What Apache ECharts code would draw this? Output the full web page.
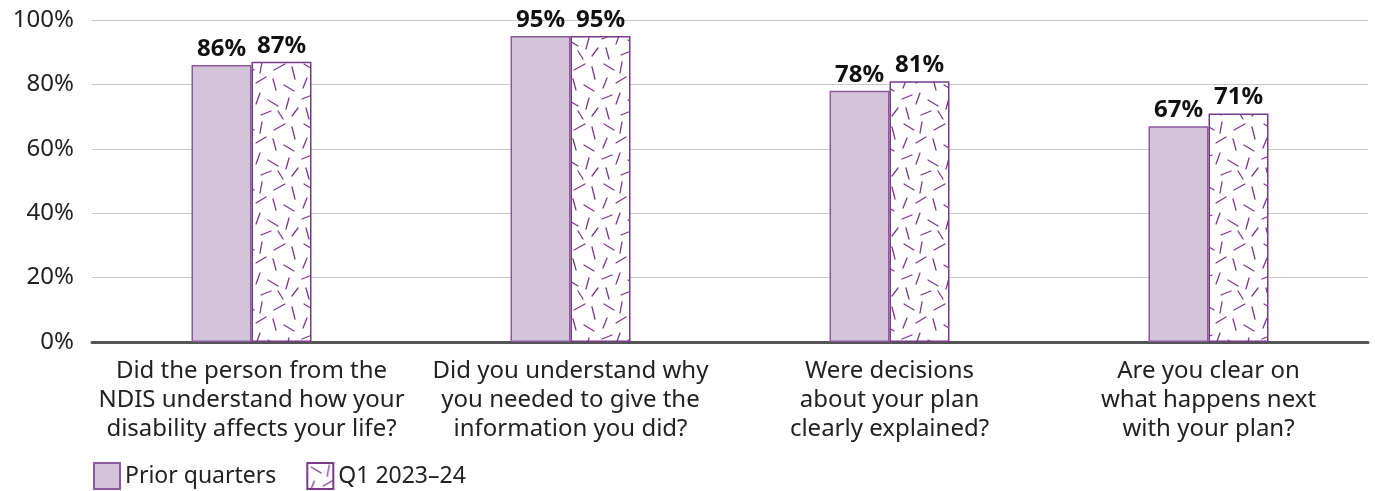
<!DOCTYPE html>
<html>
<head>
<meta charset="utf-8">
<script src="https://cdn.jsdelivr.net/npm/echarts@6/dist/echarts.min.js"></script>
<style>
  html, body { margin: 0; padding: 0; background: #fff; }
  #main { width: 1375px; height: 491px; }
</style>
</head>
<body>
<div id="main"></div>
<script>
var categories = [
  'Did the person from the\nNDIS understand how your\ndisability affects your life?',
  'Did you understand why\nyou needed to give the\ninformation you did?',
  'Were decisions\nabout your plan\nclearly explained?',
  'Are you clear on\nwhat happens next\nwith your plan?'
]
var priorQuarters = [86, 95, 78, 67]
var q1Values = [87, 95, 81, 71]
var yTicks = [0, 20, 40, 60, 80, 100]

var fontFamily = '"Noto Sans", sans-serif'

// hatch texture for the Q1 bars: short dashes at mixed angles
function makePattern () {
  var c = document.createElement('canvas')
  c.width = 60
  c.height = 60
  var ctx = c.getContext('2d')
  ctx.fillStyle = '#fff'
  ctx.fillRect(0, 0, 60, 60)
  ctx.strokeStyle = '#7a3a8c'
  ctx.lineWidth = 1.3
  ctx.lineCap = 'round'
  var strokes = [
    [4, 4, 14, 10], [22, 2, 20, 13], [34, 10, 45, 4], [52, 7, 55, 19],
    [7, 18, 3, 28], [16, 23, 26, 17], [33, 19, 36, 30], [44, 25, 54, 31],
    [2, 39, 12, 35], [20, 33, 16, 44], [28, 40, 38, 46], [49, 38, 46, 49],
    [6, 48, 9, 59], [21, 55, 31, 51], [38, 51, 43, 59], [52, 56, 58, 48]
  ]
  strokes.forEach(function (s) {
    ctx.beginPath()
    ctx.moveTo(s[0], s[1])
    ctx.lineTo(s[2], s[3])
    ctx.stroke()
  })
  return c
}

var myChart = echarts.init(document.getElementById('main'))
var option = {
  animation: false,
  textStyle: { fontFamily: fontFamily },
  grid: {
    left: 92,
    right: 7,
    top: 20,
    bottom: 149
  },
  legend: {
    left: 88,
    top: 457,
    icon: 'rect',
    itemWidth: 26,
    itemHeight: 26,
    itemGap: 30,
    textStyle: { fontSize: 23, color: '#222', fontFamily: fontFamily },
    data: ['Prior quarters', 'Q1 2023–24']
  },
  xAxis: {
    type: 'category',
    data: categories,
    axisTick: { show: false },
    axisLine: { lineStyle: { color: '#555', width: 3 } },
    axisLabel: {
      interval: 0,
      margin: 15,
      fontSize: 24,
      lineHeight: 29,
      color: '#222',
      fontFamily: fontFamily
    }
  },
  yAxis: {
    type: 'value',
    min: 0,
    max: 100,
    interval: 20,
    axisLabel: {
      fontSize: 24,
      color: '#222',
      margin: 18,
      fontFamily: fontFamily,
      formatter: function (v) { return yTicks.indexOf(v) >= 0 ? v + '%' : '' }
    },
    splitLine: { lineStyle: { color: '#c8c8c8', width: 1 } },
    axisLine: { show: false },
    axisTick: { show: false }
  },
  series: [
    {
      name: 'Prior quarters',
      type: 'bar',
      barWidth: 60,
      barGap: '0%',
      data: priorQuarters,
      itemStyle: { color: '#d3c4d9', borderColor: '#8d5a9e', borderWidth: 1.5 },
      label: {
        show: true,
        position: 'top',
        distance: 4,
        formatter: '{c}%',
        fontSize: 24,
        fontWeight: 'bold',
        color: '#111',
        fontFamily: fontFamily
      }
    },
    {
      name: 'Q1 2023–24',
      type: 'bar',
      barWidth: 60,
      data: q1Values,
      itemStyle: {
        color: { image: makePattern(), repeat: 'repeat' },
        borderColor: '#7a3a8c',
        borderWidth: 1.5
      },
      label: {
        show: true,
        position: 'top',
        distance: 4,
        formatter: '{c}%',
        fontSize: 24,
        fontWeight: 'bold',
        color: '#111',
        fontFamily: fontFamily
      }
    }
  ]
}
option && myChart.setOption(option)
</script>
</body>
</html>
